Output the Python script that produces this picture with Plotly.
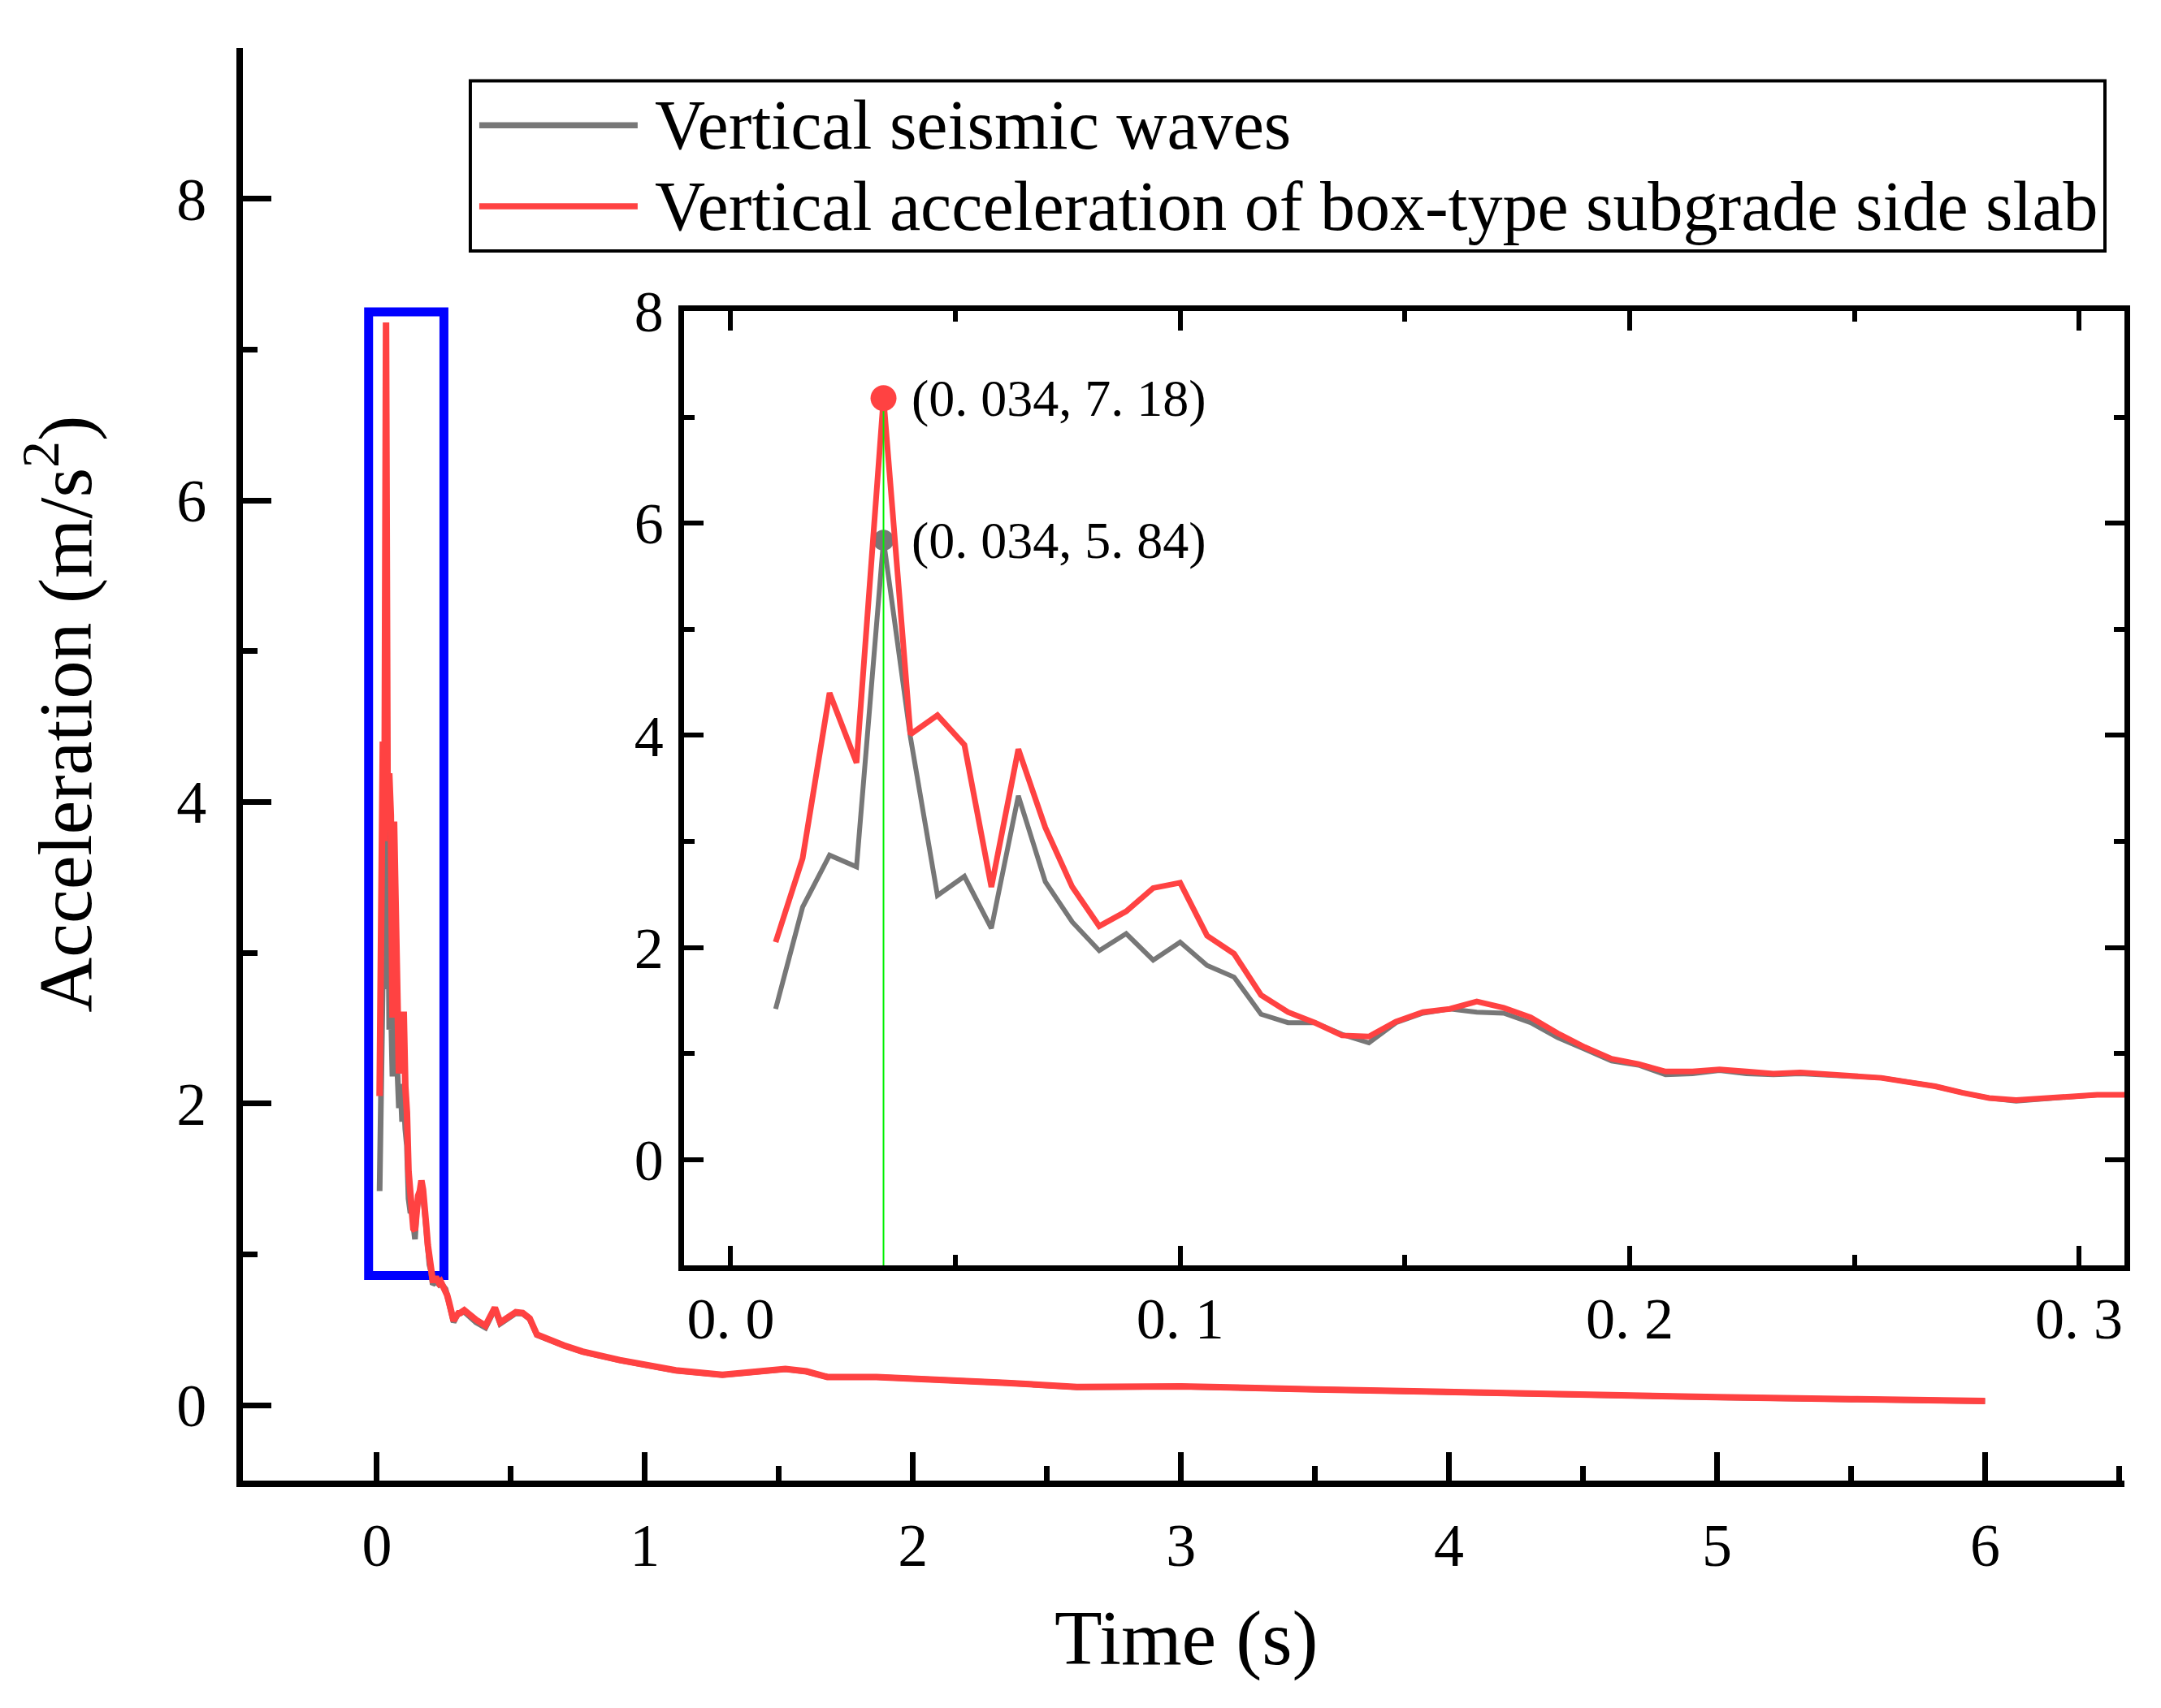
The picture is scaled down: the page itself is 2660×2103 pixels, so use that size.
import plotly.graph_objects as go

FONT = 'Liberation Serif'
RED = '#FF4242'
GRAY = '#777777'
BLUE = '#0000FF'
GREEN = '#00F000'

# --- data ---
time_s = [
    0.010, 0.016, 0.022, 0.028, 0.034, 0.040, 0.046, 0.052, 0.058, 0.064,
    0.070, 0.076, 0.082, 0.088, 0.094, 0.100, 0.106, 0.112, 0.118, 0.124,
    0.130, 0.136, 0.142, 0.148, 0.154, 0.160, 0.166, 0.172, 0.178, 0.184,
    0.190, 0.196, 0.202, 0.208, 0.214, 0.220, 0.226, 0.232, 0.238, 0.244,
    0.250, 0.256, 0.262, 0.268, 0.274, 0.280, 0.286, 0.292, 0.298, 0.304,
    0.310,
    0.326, 0.370, 0.405, 0.440, 0.460, 0.518, 0.544, 0.570, 0.597, 0.697,
    0.767, 0.906, 1.115, 1.289, 1.393, 1.524, 1.603, 1.681, 1.864, 2.100,
    2.350, 2.612, 2.800, 3.000, 3.500, 4.000, 4.500, 5.000, 5.500, 6.000,
]
# box-type subgrade side slab (red)
acc_slab = [
    2.05, 2.84, 4.40, 3.74, 7.18, 4.01, 4.19, 3.91, 2.57, 3.87,
    3.13, 2.57, 2.20, 2.34, 2.56, 2.61, 2.11, 1.94, 1.55, 1.39,
    1.29, 1.17, 1.16, 1.30, 1.39, 1.42, 1.49, 1.43, 1.34, 1.19,
    1.06, 0.95, 0.90, 0.83, 0.83, 0.85, 0.83, 0.81, 0.82, 0.80,
    0.78, 0.77, 0.73, 0.69, 0.63, 0.58, 0.56, 0.58, 0.60, 0.61,
    0.61,
    0.63, 0.566, 0.527, 0.647, 0.549, 0.617, 0.611, 0.576, 0.468, 0.397,
    0.356, 0.299, 0.231, 0.201, 0.219, 0.240, 0.224, 0.187, 0.187, 0.170,
    0.148, 0.121, 0.124, 0.125, 0.105, 0.085, 0.068, 0.053, 0.040, 0.028,
]
# vertical seismic wave (grey)
acc_wave = [
    1.42, 2.38, 2.87, 2.76, 5.84, 3.98, 2.49, 2.67, 2.18, 3.43,
    2.62, 2.24, 1.97, 2.13, 1.88, 2.05, 1.83, 1.72, 1.37, 1.29,
    1.29, 1.18, 1.10, 1.29, 1.38, 1.42, 1.39, 1.38, 1.29, 1.15,
    1.04, 0.93, 0.89, 0.80, 0.81, 0.84, 0.81, 0.80, 0.81, 0.80,
    0.78, 0.77, 0.73, 0.69, 0.63, 0.58, 0.55, 0.57, 0.60, 0.61,
    0.61,
    0.62, 0.550, 0.515, 0.640, 0.540, 0.610, 0.608, 0.572, 0.465, 0.395,
    0.354, 0.298, 0.230, 0.200, 0.218, 0.239, 0.223, 0.186, 0.186, 0.169,
    0.147, 0.120, 0.123, 0.124, 0.104, 0.084, 0.067, 0.052, 0.039, 0.027,
]

peak_t = 0.034
peak_slab = 7.18
peak_wave = 5.84
peak_labels = ['(0. 034, 7. 18)', '(0. 034, 5. 84)']

series_names = ['Vertical seismic waves',
                'Vertical acceleration of box-type subgrade side slab']

main_xrange = [-0.5, 6.52]
main_yrange = [-0.5, 9]
inset_xrange = [-0.0104, 0.3101]
inset_yrange = [-1, 8]
inset_xticks = ['0', '0.1', '0.2', '0.3']
inset_xtext = ['0. 0', '0. 1', '0. 2', '0. 3']

# region of the main plot that is enlarged in the inset
box_t = [-0.031, 0.25]
box_a = [0.86, 7.25]

# --- page geometry (px, as on the reference picture) ---
W, H = 2660, 2103
OFF = 8  # default body margin of the html page
L, R, T, B = 298.5, 2615, 46, 1822.7


def px_x(p):
    return (p - L) / (R - L)


def px_y(p):
    return (B - p) / (B - T)


fig = go.Figure()

# Main plot
fig.add_trace(go.Scatter(x=time_s, y=acc_wave, mode='lines',
                         line=dict(color=GRAY, width=7), xaxis='x', yaxis='y'))
fig.add_trace(go.Scatter(x=time_s, y=acc_slab, mode='lines',
                         line=dict(color=RED, width=8), xaxis='x', yaxis='y'))

# Inset
fig.add_trace(go.Scatter(x=time_s, y=acc_wave, mode='lines',
                         line=dict(color=GRAY, width=6), xaxis='x2', yaxis='y2'))
fig.add_trace(go.Scatter(x=[peak_t], y=[peak_wave], mode='markers',
                         marker=dict(color=GRAY, size=26), xaxis='x2', yaxis='y2'))
fig.add_trace(go.Scatter(x=time_s, y=acc_slab, mode='lines',
                         line=dict(color=RED, width=7), xaxis='x2', yaxis='y2'))
fig.add_trace(go.Scatter(x=[peak_t, peak_t], y=[inset_yrange[0], peak_slab], mode='lines',
                         line=dict(color=GREEN, width=2), xaxis='x2', yaxis='y2'))
fig.add_trace(go.Scatter(x=[peak_t], y=[peak_slab], mode='markers',
                         marker=dict(color=RED, size=32), xaxis='x2', yaxis='y2'))

tickfont = dict(family=FONT, size=74, color='black')
insetfont = dict(family=FONT, size=72, color='black')

fig.update_layout(
    width=W, height=H,
    margin=dict(l=L - OFF, r=W - R + OFF, t=T - OFF, b=H - B + OFF, pad=0),
    paper_bgcolor='white', plot_bgcolor='white',
    showlegend=False,
    xaxis=dict(
        domain=[0, 1], range=main_xrange, anchor='y',
        showline=True, linewidth=8, linecolor='black',
        showgrid=False, zeroline=False,
        ticks='inside', ticklen=35, tickwidth=7, tickcolor='black',
        tick0=0, dtick=1, tickfont=tickfont, ticklabelstandoff=8,
        minor=dict(ticks='inside', ticklen=18, tickwidth=7, tickcolor='black',
                   tick0=0, dtick=0.5, showgrid=False),
    ),
    yaxis=dict(
        domain=[0, 1], range=main_yrange, anchor='x',
        showline=True, linewidth=8, linecolor='black',
        showgrid=False, zeroline=False,
        ticks='inside', ticklen=35, tickwidth=7, tickcolor='black',
        tick0=0, dtick=2, tickfont=tickfont, ticklabelstandoff=22,
        minor=dict(ticks='inside', ticklen=18, tickwidth=7, tickcolor='black',
                   tick0=0, dtick=1, showgrid=False),
    ),
    xaxis2=dict(
        domain=[px_x(841.5), 1], range=inset_xrange, anchor='y2',
        showline=True, linewidth=6.5, linecolor='black', mirror='ticks',
        showgrid=False, zeroline=False,
        ticks='inside', ticklen=24, tickwidth=6, tickcolor='black',
        tick0=0, dtick=0.1, tickfont=insetfont, ticklabelstandoff=-3,
        labelalias=dict(zip(inset_xticks, inset_xtext)),
        minor=dict(ticks='inside', ticklen=13, tickwidth=6, tickcolor='black',
                   tick0=0, dtick=0.05, showgrid=False),
    ),
    yaxis2=dict(
        domain=[px_y(1556), px_y(372.5)], range=inset_yrange, anchor='x2',
        showline=True, linewidth=6.5, linecolor='black', mirror='ticks',
        showgrid=False, zeroline=False,
        ticks='inside', ticklen=24, tickwidth=6, tickcolor='black',
        tick0=0, dtick=2, tickfont=insetfont, ticklabelstandoff=4,
        minor=dict(ticks='inside', ticklen=13, tickwidth=6, tickcolor='black',
                   tick0=0, dtick=1, showgrid=False),
    ),
)

# Blue frame marking the enlarged region
fig.add_shape(type='rect', xref='x', yref='y',
              x0=box_t[0], x1=box_t[1], y0=box_a[0], y1=box_a[1],
              line=dict(color=BLUE, width=11), layer='below')

# Peak labels
for yv, txt in zip([peak_slab, peak_wave], peak_labels):
    fig.add_annotation(x=peak_t, y=yv, xref='x2', yref='y2', text=txt,
                       showarrow=False, xanchor='left', yanchor='middle', xshift=32,
                       font=dict(family=FONT, size=64, color='black'))

# Legend (drawn by hand so the line samples get their long length)
fig.add_shape(type='rect', xref='paper', yref='paper',
              x0=px_x(578.5), x1=px_x(2591), y0=px_y(297.7), y1=px_y(86.7),
              line=dict(color='black', width=4))
for col, name, ypx in zip([GRAY, RED], series_names, [142, 242.5]):
    fig.add_shape(type='line', xref='paper', yref='paper',
                  x0=px_x(589.5), x1=px_x(784.5), y0=px_y(ypx), y1=px_y(ypx),
                  line=dict(color=col, width=7.5))
    fig.add_annotation(x=px_x(804), y=px_y(ypx), xref='paper', yref='paper',
                       text=name, showarrow=False, xanchor='left', yanchor='middle',
                       font=dict(family=FONT, size=86, color='black'))

# Axis titles
fig.add_annotation(x=px_x(72), y=px_y(872), xref='paper', yref='paper',
                   text='Acceleration (m/s<sup>2</sup>)', textangle=-90,
                   showarrow=False, xanchor='center', yanchor='middle',
                   font=dict(family=FONT, size=94, color='black'))
fig.add_annotation(x=px_x(1460.7), y=px_y(2018), xref='paper', yref='paper',
                   text='Time (s)', showarrow=False, xanchor='center', yanchor='middle',
                   font=dict(family=FONT, size=96, color='black'))

fig.write_html("out.html")
